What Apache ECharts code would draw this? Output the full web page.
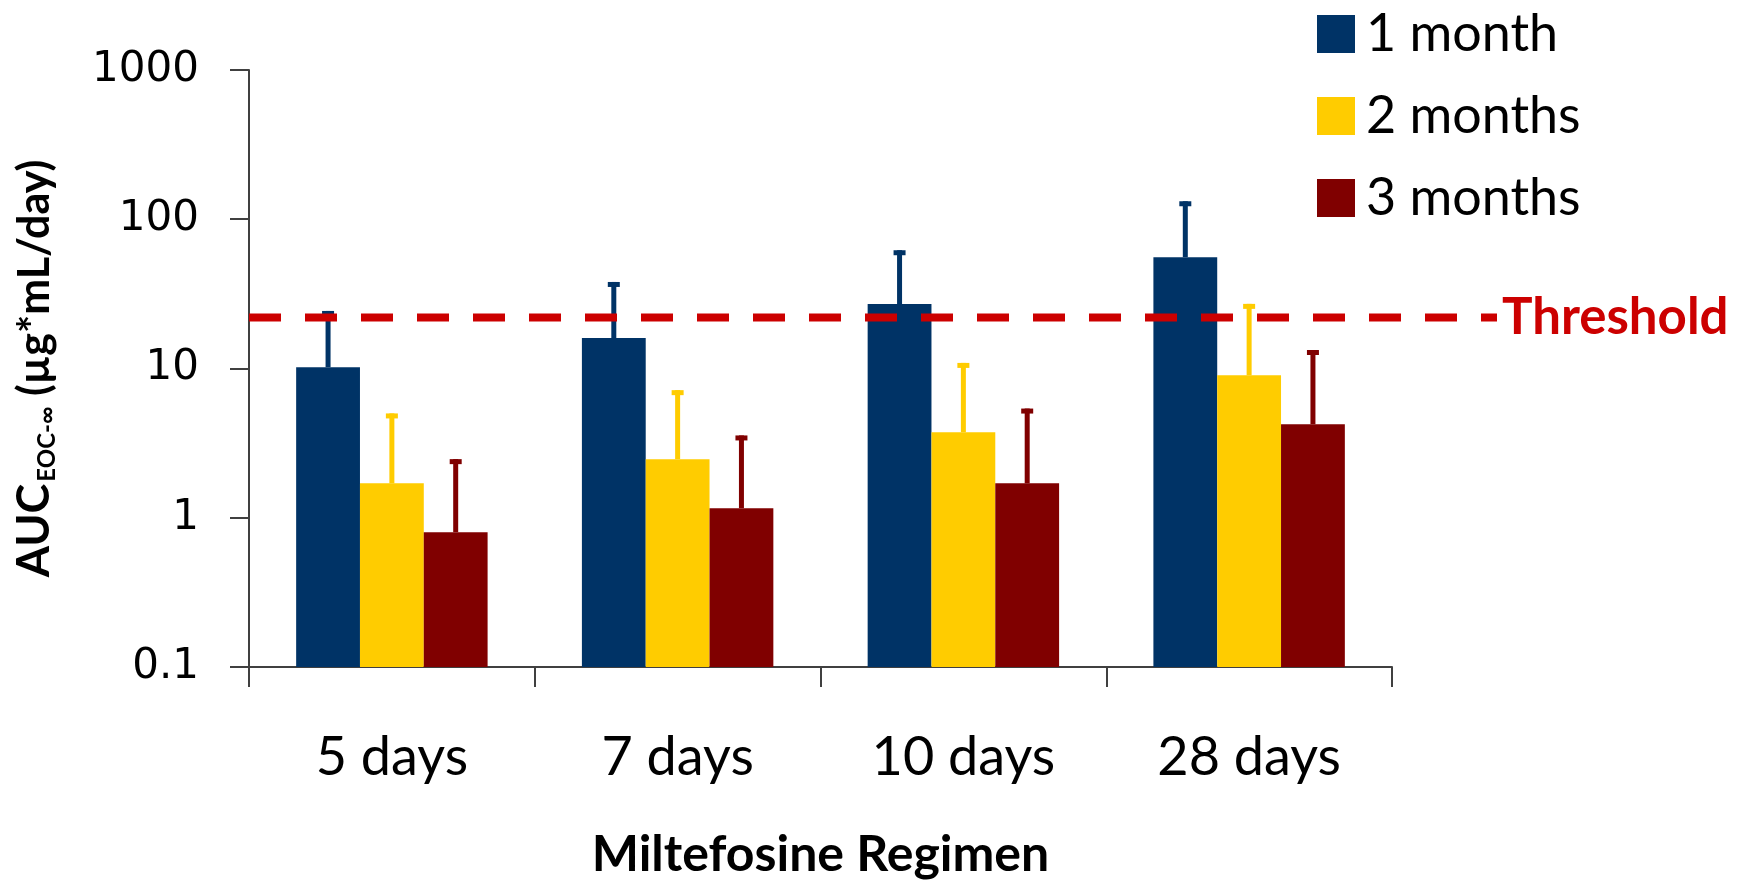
<!DOCTYPE html>
<html>
<head>
<meta charset="utf-8">
<script src="https://cdn.jsdelivr.net/npm/echarts@6/dist/echarts.min.js"></script>
<style>
html,body{margin:0;padding:0;background:#fff;}
#chart{width:1738px;height:886px;}
</style>
</head>
<body>
<div id="chart"></div>
<script>
// ---- data ----
const categories = ['5 days', '7 days', '10 days', '28 days'];
const seriesNames = ['1 month', '2 months', '3 months'];
const oneMonth = [10.2, 16.0, 27.0, 55.7];
const oneMonthUpper = [24.3, 38.0, 62.0, 132];
const twoMonths = [1.70, 2.47, 3.74, 9.0];
const twoMonthsUpper = [5.0, 7.16, 10.9, 27.1];
const threeMonths = [0.80, 1.16, 1.70, 4.23];
const threeMonthsUpper = [2.47, 3.56, 5.39, 13.3];
const thresholdValue = 22;
const thresholdLabel = 'Threshold';
const yMin = 0.1, yMax = 1000;

const colors = ['#003366', '#FFCC00', '#800000'];
const values = [oneMonth, twoMonths, threeMonths];
const uppers = [oneMonthUpper, twoMonthsUpper, threeMonthsUpper];

const chart = echarts.init(document.getElementById('chart'));

function makeRender(k) {
  return function (params, api) {
    const idx = api.value(0);
    const base = api.coord([idx, yMin]);
    const top = api.coord([idx, api.value(1)]);
    const errTop = api.coord([idx, api.value(2)]);
    const band = api.size([1, 0])[0];
    const barW = band * 0.67 / 3;
    const cx = base[0] + (k - 1) * barW;
    const color = colors[k];
    return {
      type: 'group',
      children: [
        { type: 'rect', shape: { x: cx - barW / 2, y: top[1], width: barW, height: base[1] - top[1] }, style: { fill: color } },
        { type: 'rect', shape: { x: cx - 2.5, y: errTop[1], width: 5, height: top[1] - errTop[1] }, style: { fill: color } },
        { type: 'rect', shape: { x: cx - 6, y: errTop[1], width: 12, height: 5 }, style: { fill: color } }
      ]
    };
  };
}

const series = seriesNames.map(function (name, k) {
  return {
    name: name,
    type: 'custom',
    xAxisIndex: 0,
    yAxisIndex: 0,
    itemStyle: { color: colors[k] },
    encode: { x: 0, y: 1 },
    renderItem: makeRender(k),
    data: categories.map(function (c, i) { return [i, values[k][i], uppers[k][i]]; }),
    z: 2
  };
});

series.push({
  name: thresholdLabel,
  type: 'line',
  xAxisIndex: 1,
  yAxisIndex: 1,
  data: [[0, thresholdValue], [1, thresholdValue]],
  symbol: 'none',
  silent: true,
  z: 5,
  lineStyle: { color: '#CC0000', width: 8, type: [32, 24], cap: 'butt' },
  endLabel: {
    show: true,
    formatter: thresholdLabel,
    color: '#CC0000',
    fontFamily: 'Lato',
    fontWeight: 'bold',
    fontSize: 51,
    distance: 5
  }
});

const option = {
  animation: false,
  backgroundColor: '#ffffff',
  legend: {
    orient: 'vertical',
    left: 1312,
    top: 3,
    itemWidth: 38,
    itemHeight: 38,
    itemGap: 30,
    icon: 'rect',
    data: seriesNames.map(function (n, k) { return { name: n, itemStyle: { color: colors[k] } }; }),
    textStyle: { fontFamily: 'Lato', fontSize: 52, color: '#000', padding: [0, 0, 0, 6] }
  },
  grid: [
    { left: 249, right: 346, top: 70, bottom: 219 },
    { left: 249, right: 241, top: 70, bottom: 219 }
  ],
  xAxis: [
    {
      type: 'category',
      gridIndex: 0,
      data: categories,
      boundaryGap: true,
      axisLine: { lineStyle: { color: '#404040', width: 2 } },
      axisTick: { show: true, length: 20, lineStyle: { color: '#404040', width: 2 } },
      axisLabel: { fontFamily: 'Lato', fontSize: 54, color: '#000', margin: 64 },
      name: 'Miltefosine Regimen',
      nameLocation: 'middle',
      nameGap: 163,
      nameTextStyle: { fontFamily: 'Lato', fontWeight: 'bold', fontSize: 50, color: '#000' }
    },
    { type: 'value', gridIndex: 1, min: 0, max: 1, show: false }
  ],
  yAxis: [
    {
      type: 'log',
      gridIndex: 0,
      logBase: 10,
      min: yMin,
      max: yMax,
      splitLine: { show: false },
      minorTick: { show: false },
      axisLine: { show: true, lineStyle: { color: '#404040', width: 2 } },
      axisTick: { show: true, length: 19, lineStyle: { color: '#404040', width: 2 } },
      axisLabel: { fontFamily: 'DejaVu Sans', fontSize: 42, color: '#000', margin: 50, padding: [8, 0, 0, 0],
        formatter: function (v) { return String(+v.toPrecision(3)); } },
      name: '{a|AUC}{s|EOC-∞}{b| (µg*mL/day)}',
      nameLocation: 'middle',
      nameRotate: 90,
      nameGap: 192,
      nameTextStyle: {
        rich: {
          a: { fontFamily: 'Lato', fontWeight: 'bold', fontSize: 45, color: '#000', verticalAlign: 'bottom', lineHeight: 50 },
          s: { fontFamily: 'Lato', fontWeight: 'bold', fontSize: 24, color: '#000', verticalAlign: 'bottom', lineHeight: 50, padding: [0, 0, -2, 2] },
          b: { fontFamily: 'Lato', fontWeight: 'bold', fontSize: 43, color: '#000', verticalAlign: 'bottom', lineHeight: 50 }
        }
      }
    },
    { type: 'log', gridIndex: 1, logBase: 10, min: yMin, max: yMax, show: false }
  ],
  series: series
};

chart.setOption(option);
</script>
</body>
</html>
